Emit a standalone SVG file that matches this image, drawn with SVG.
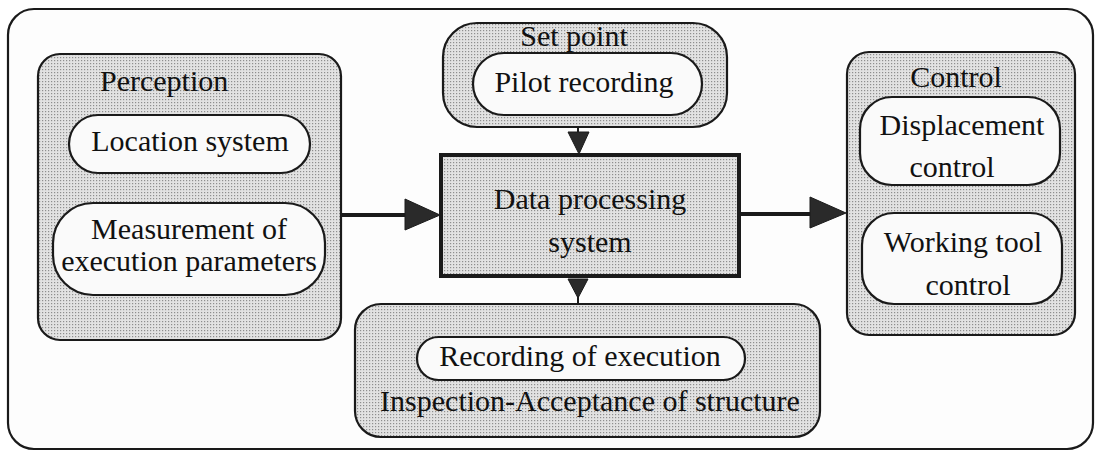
<svg xmlns="http://www.w3.org/2000/svg" width="1096" height="451" viewBox="0 0 1096 451">
  <defs>
    <!-- halftone stipple used for the shaded groups -->
    <pattern id="stipple" width="3" height="3" patternUnits="userSpaceOnUse">
      <rect width="3" height="3" fill="#e2e2e2"/>
      <rect x="0" y="0" width="1.2" height="1.2" fill="#8e8e8e"/>
    </pattern>
    <style>
      .frame { fill: #fdfdfd; stroke: #1a1a1a; stroke-width: 2.2; }
      .group { fill: url(#stipple); stroke: #1a1a1a; stroke-width: 2.2; }
      .pill { fill: #fafafa; stroke: #1a1a1a; stroke-width: 2.2; }
      .core { fill: url(#stipple); stroke: #1a1a1a; stroke-width: 4; }
      .lbl { font-family: "Liberation Serif", "Times New Roman", serif; font-size: 30px; fill: #111; }
      .mid { text-anchor: middle; }
      .wire { stroke: #1a1a1a; stroke-width: 4; fill: none; }
      .tip { fill: #2a2a2a; stroke: #1a1a1a; stroke-width: 1; }
    </style>
  </defs>

  <!-- outer frame -->
  <rect class="frame" x="8" y="9" width="1085" height="440" rx="26"/>

  <!-- connectors -->
  <g id="connectors">
    <line class="wire" x1="341" y1="215" x2="410" y2="215"/>
    <polygon class="tip" points="405,199 440,215 405,230"/>
    <line class="wire" x1="740" y1="214" x2="815" y2="214"/>
    <polygon class="tip" points="810,197 846,213 810,228"/>
    <line class="wire" x1="578" y1="127" x2="578" y2="135" style="stroke-width:2"/>
    <polygon class="tip" points="568,132 589,132 579,154"/>
    <polygon class="tip" points="568,279 588,279 578,298"/>
    <line class="wire" x1="578" y1="296" x2="578" y2="304" style="stroke-width:2"/>
  </g>

  <!-- Perception -->
  <g id="perception">
    <rect class="group" x="38" y="54" width="303" height="286" rx="22"/>
    <text class="lbl" x="100" y="91">Perception</text>
    <g id="location-system">
      <rect class="pill" x="69" y="115" width="241" height="58" rx="29"/>
      <text class="lbl mid" x="190" y="151">Location system</text>
    </g>
    <g id="measurement">
      <rect class="pill" x="53" y="203" width="272" height="92" rx="40"/>
      <text class="lbl mid" x="189" y="239">Measurement of</text>
      <text class="lbl mid" x="189" y="271">execution parameters</text>
    </g>
  </g>

  <!-- Set point -->
  <g id="set-point">
    <rect class="group" x="443" y="23" width="284" height="104" rx="34"/>
    <text class="lbl mid" x="574" y="46">Set point</text>
    <g id="pilot-recording">
      <rect class="pill" x="473" y="53" width="229" height="62" rx="31"/>
      <text class="lbl mid" x="584" y="92">Pilot recording</text>
    </g>
  </g>

  <!-- Data processing -->
  <g id="data-processing">
    <rect class="core" x="441" y="155" width="298" height="121"/>
    <text class="lbl mid" x="590" y="209">Data processing</text>
    <text class="lbl mid" x="590" y="252">system</text>
  </g>

  <!-- Inspection-Acceptance -->
  <g id="inspection">
    <rect class="group" x="355" y="304" width="465" height="133" rx="26"/>
    <g id="recording-execution">
      <rect class="pill" x="417" y="337" width="328" height="43" rx="21.5"/>
      <text class="lbl mid" x="580" y="366">Recording of execution</text>
    </g>
    <text class="lbl mid" x="590" y="411">Inspection-Acceptance of structure</text>
  </g>

  <!-- Control -->
  <g id="control">
    <rect class="group" x="847" y="52" width="228" height="283" rx="22"/>
    <text class="lbl mid" x="956" y="87">Control</text>
    <g id="displacement-control">
      <rect class="pill" x="860" y="97" width="200" height="88" rx="32"/>
      <text class="lbl mid" x="962" y="135">Displacement</text>
      <text class="lbl mid" x="952" y="177">control</text>
    </g>
    <g id="working-tool-control">
      <rect class="pill" x="862" y="213" width="200" height="91" rx="32"/>
      <text class="lbl mid" x="963" y="252">Working tool</text>
      <text class="lbl mid" x="968" y="295">control</text>
    </g>
  </g>
</svg>
